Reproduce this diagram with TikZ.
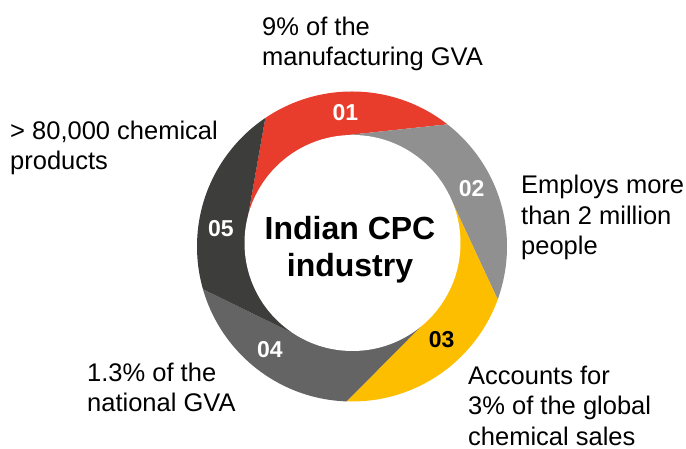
\documentclass[tikz,border=0pt]{standalone}
\usepackage{fontspec}
\setmainfont{Liberation Sans}
\usetikzlibrary{calc}
\definecolor{segred}{HTML}{E83D2D}
\definecolor{seggrey}{HTML}{909090}
\definecolor{segyellow}{HTML}{FEBE00}
\definecolor{segdark}{HTML}{646464}
\definecolor{segblack}{HTML}{3D3D3B}
\begin{document}
\begin{tikzpicture}[x=1pt,y=1pt,
  body/.style={anchor=base west, inner sep=0pt, align=left, font=\fontsize{25.5}{30.5}\selectfont},
  num/.style={inner sep=0pt, font=\fontsize{23}{26}\selectfont\bfseries, text=white},
  title/.style={inner sep=0pt, align=center, font=\fontsize{32}{37}\selectfont\bfseries}
]
\useasboundingbox (0,0) rectangle (686,449);
\coordinate (Co) at (352,202.5);
\coordinate (Ci) at (352.5,206);
\foreach \n/\a in {b12/52, b51/124, b45/196, b34/268, b23/340} {
  \coordinate (\n O) at ($(Co)+(\a:155)$);
  \coordinate (\n T) at ($(Ci)+(\a+41:108)$);
  \coordinate (\n E) at ($(\n T)!1.6!(\n O)$);
}
\begin{scope}
  \clip (Co) circle[radius=155];
  \fill[segred] (Ci) -- (b12T) -- (b12E) -- ($(Co)+(88:330)$) -- (b51E) -- (b51T) -- cycle;
  \fill[seggrey] (Ci) -- (b23T) -- (b23E) -- ($(Co)+(16:330)$) -- (b12E) -- (b12T) -- cycle;
  \fill[segyellow] (Ci) -- (b34T) -- (b34E) -- ($(Co)+(304:330)$) -- (b23E) -- (b23T) -- cycle;
  \fill[segdark] (Ci) -- (b45T) -- (b45E) -- ($(Co)+(232:330)$) -- (b34E) -- (b34T) -- cycle;
  \fill[segblack] (Ci) -- (b51T) -- (b51E) -- ($(Co)+(160:330)$) -- (b45E) -- (b45T) -- cycle;
\end{scope}
\fill[white] (Ci) circle[radius=108];

\node[num] (n1) at (345.5,336) {01};
\node[num] (n2) at (471.7,260.7) {02};
\node[num, text=black] (n3) at (441.7,109) {03};
\node[num] (n4) at (270,99) {04};
\node[num] (n5) at (221,220) {05};

\node[title, anchor=base] (ttl) at (350,172) {Indian CPC\\industry};

\node[body] (t1) at (262,383) {9\% of the\\manufacturing GVA};
\node[body] (t2) at (521,194) {Employs more\\than 2 million\\people};
\node[body] (t3) at (468,3.5) {Accounts for\\3\% of the global\\chemical sales};
\node[body] (t4) at (87,37.3) {1.3\% of the\\national GVA};
\node[body] (t5) at (10,279) {> 80,000 chemical\\products};
\end{tikzpicture}
\end{document}
